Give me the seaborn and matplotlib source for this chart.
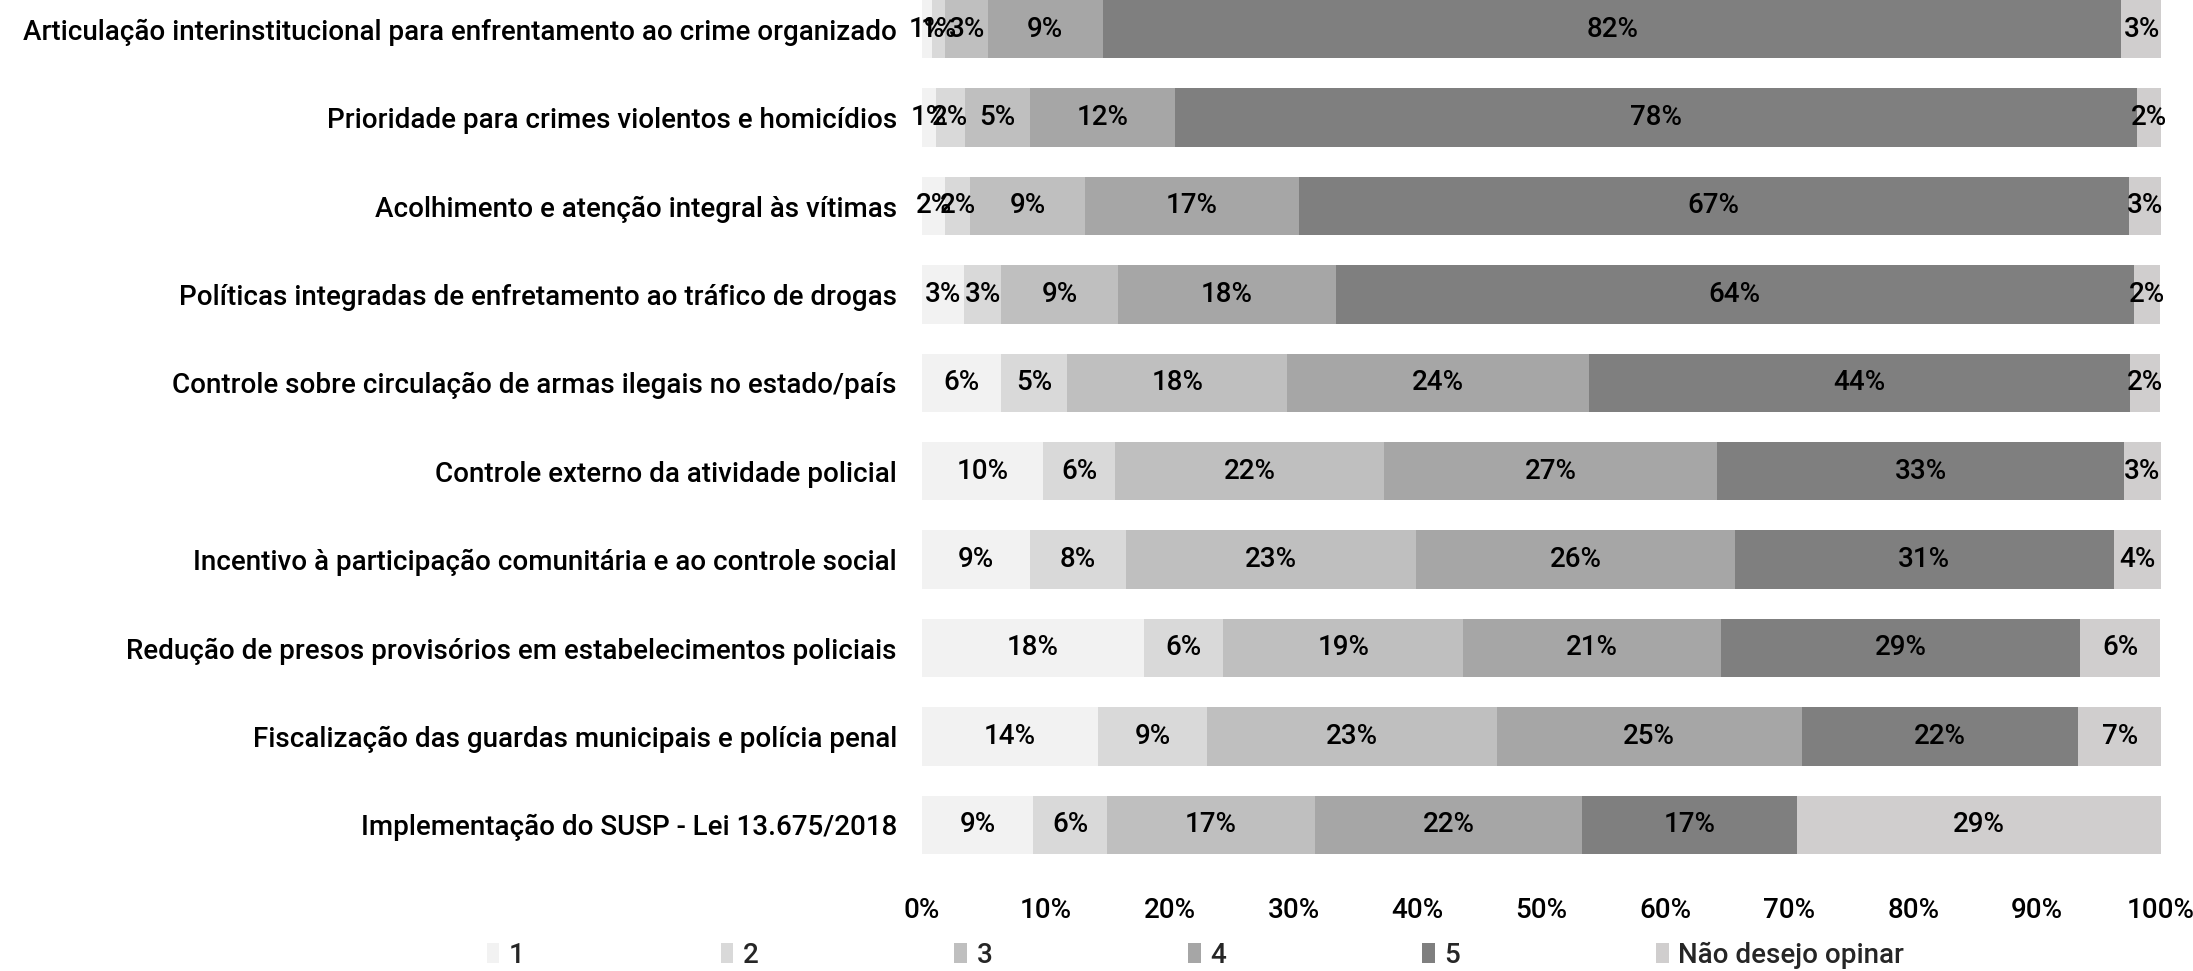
import matplotlib
matplotlib.use("Agg")
import matplotlib.pyplot as plt
from matplotlib.patches import Patch
from matplotlib.ticker import PercentFormatter
import seaborn as sns
import pandas as pd
import numpy as np

# ==========================================
# dados (percentuais)
# ==========================================
categorias = [
    "Articulação interinstitucional para enfrentamento ao crime organizado",
    "Prioridade para crimes violentos e homicídios",
    "Acolhimento e atenção integral às vítimas",
    "Políticas integradas de enfretamento ao tráfico de drogas",
    "Controle sobre circulação de armas ilegais no estado/país",
    "Controle externo da atividade policial",
    "Incentivo à participação comunitária e ao controle social",
    "Redução de presos provisórios em estabelecimentos policiais",
    "Fiscalização das guardas municipais e polícia penal",
    "Implementação do SUSP - Lei 13.675/2018",
]
niveis = ["1", "2", "3", "4", "5", "Não desejo opinar"]

nota_1 = [0.8, 1.1, 1.9, 3.4, 6.4, 9.8, 8.7, 17.9, 14.2, 9.0]
nota_2 = [1.1, 2.4, 2.0, 3.0, 5.3, 5.8, 7.8, 6.4, 8.8, 5.9]
nota_3 = [3.4, 5.2, 9.3, 9.4, 17.8, 21.7, 23.4, 19.4, 23.4, 16.8]
nota_4 = [9.3, 11.7, 17.2, 17.6, 24.3, 26.9, 25.7, 20.8, 24.6, 21.6]
nota_5 = [82.2, 77.7, 67.0, 64.4, 43.7, 32.8, 30.6, 29.0, 22.3, 17.3]
nao_opina = [3.3, 1.9, 2.6, 2.1, 2.4, 3.0, 3.8, 6.4, 6.8, 29.4]

cores = ["#f2f2f2", "#d9d9d9", "#bfbfbf", "#a6a6a6", "#7f7f7f", "#d0cece"]

df = pd.DataFrame({"categoria": categorias, "1": nota_1, "2": nota_2, "3": nota_3,
                   "4": nota_4, "5": nota_5, "Não desejo opinar": nao_opina})
cum = df[niveis].cumsum(axis=1)

# ==========================================
# figura
# ==========================================
sns.set_style("white")
plt.rcParams["font.family"] = ["Roboto", "DejaVu Sans"]
plt.rcParams["font.weight"] = "medium"
fs = 20

fig = plt.figure(figsize=(21.93, 9.71), dpi=100)
ax = fig.add_axes([0.4204, 0.096, 0.565, 0.904])

# barras empilhadas: desenha do acumulado maior para o menor
for nivel, cor in reversed(list(zip(niveis, cores))):
    sns.barplot(x=cum[nivel], y=df["categoria"], color=cor, orient="h",
                width=0.66, saturation=1, ax=ax, edgecolor="none")

# rótulos de percentuais
for i in range(len(df)):
    for nivel in niveis:
        v = df.loc[i, nivel]
        centro = cum.loc[i, nivel] - v / 2
        ax.text(centro, i, f"{v:.0f}%", ha="center", va="center", fontsize=fs, color="black")

ax.set_xlim(0, 100)
ax.set_ylim(9.6, -0.33)
ax.set_xticks(np.arange(0, 101, 10))
ax.xaxis.set_major_formatter(PercentFormatter(decimals=0))
ax.set_xlabel("")
ax.set_ylabel("")
ax.tick_params(axis="both", length=0, labelsize=fs, labelcolor="black")
ax.tick_params(axis="y", pad=18)
ax.tick_params(axis="x", pad=14)
sns.despine(ax=ax, left=True, bottom=True)

handles = [Patch(facecolor=c, edgecolor="none") for c in cores]
fig.legend(handles, niveis, loc="center left", bbox_to_anchor=(0.222, 0.0165), ncol=6,
           frameon=False, fontsize=fs, handlelength=0.45, handleheight=0.7,
           handletextpad=0.35, columnspacing=7.05, borderpad=0, borderaxespad=0)

plt.savefig("out.png", dpi=100)
